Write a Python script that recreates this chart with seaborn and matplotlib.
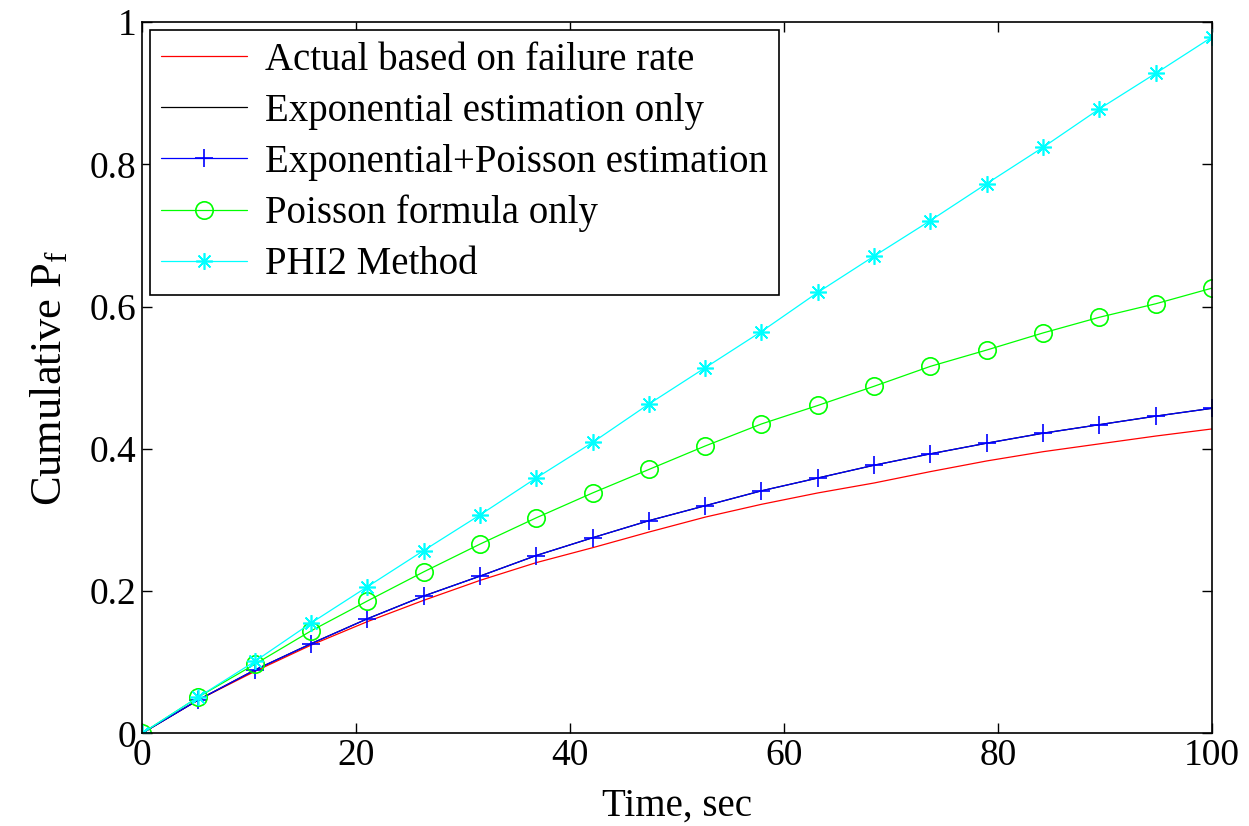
import numpy as np
import pandas as pd
import matplotlib
matplotlib.use("Agg")
import matplotlib.pyplot as plt
import seaborn as sns

# -----------------------------
# Data
# -----------------------------
time_sec = [0.0, 5.26, 10.53, 15.79, 21.05, 26.32, 31.58, 36.84, 42.11, 47.37,
            52.63, 57.89, 63.16, 68.42, 73.68, 78.95, 84.21, 89.47, 94.74, 100.0]

actual_pf = [0.0, 0.047, 0.087, 0.124, 0.157, 0.187, 0.215, 0.240, 0.261, 0.283,
             0.304, 0.322, 0.338, 0.352, 0.368, 0.383, 0.396, 0.407, 0.418, 0.428]

expo_pf = [0.0, 0.047, 0.089, 0.126, 0.161, 0.193, 0.221, 0.250, 0.275, 0.299,
           0.320, 0.341, 0.359, 0.377, 0.393, 0.408, 0.422, 0.434, 0.446, 0.457]

expo_poisson_pf = [0.0, 0.047, 0.089, 0.126, 0.161, 0.193, 0.221, 0.250, 0.275, 0.299,
                   0.320, 0.341, 0.359, 0.377, 0.393, 0.408, 0.422, 0.434, 0.446, 0.457]

poisson_pf = [0.0, 0.051, 0.097, 0.144, 0.186, 0.227, 0.266, 0.303, 0.338, 0.371,
              0.404, 0.435, 0.461, 0.488, 0.516, 0.539, 0.563, 0.585, 0.604, 0.626]

phi2_pf = [0.0, 0.051, 0.101, 0.155, 0.206, 0.257, 0.307, 0.359, 0.409, 0.463,
           0.514, 0.565, 0.620, 0.671, 0.721, 0.773, 0.824, 0.878, 0.928, 0.979]

series_names = ["Actual based on failure rate", "Exponential estimation only",
                "Exponential+Poisson estimation", "Poisson formula only", "PHI2 Method"]

x_ticks = [0, 20, 40, 60, 80, 100]
y_ticks = [0, 0.2, 0.4, 0.6, 0.8, 1.0]
y_tick_labels = ["0", "0.2", "0.4", "0.6", "0.8", "1"]

# -----------------------------
# Style
# -----------------------------
sns.set_style("ticks")
plt.rcParams["font.family"] = ["Liberation Serif", "DejaVu Serif"]
plt.rcParams["mathtext.fontset"] = "custom"
plt.rcParams["mathtext.rm"] = "Liberation Serif"
plt.rcParams["mathtext.it"] = "Liberation Serif:italic"
plt.rcParams["text.color"] = "black"
plt.rcParams["axes.labelcolor"] = "black"

df = pd.DataFrame({
    "Time": time_sec * 5,
    "Pf": actual_pf + expo_pf + expo_poisson_pf + poisson_pf + phi2_pf,
    "Method": np.repeat(series_names, len(time_sec)),
})

# colour, marker, markersize per series (MATLAB look)
styles = {
    "Actual based on failure rate": ("#ff0000", None, 0),
    "Exponential estimation only": ("#000000", None, 0),
    "Exponential+Poisson estimation": ("#0000ff", "+", 13),
    "Poisson formula only": ("#00ff00", "o", 12.5),
    "PHI2 Method": ("#00ffff", (8, 2, 0), 12),
}

fig = plt.figure(figsize=(12.49, 8.26), dpi=100)
ax = fig.add_axes([0.1137, 0.1122, 0.8567, 0.8610])

for name in series_names:
    color, marker, msize = styles[name]
    sub = df[df["Method"] == name]
    kw = dict(color=color, linewidth=0.9, label=name, ax=ax)
    if marker is not None:
        kw.update(marker=marker, markersize=msize, markerfacecolor="none",
                  markeredgecolor=color, markeredgewidth=1.2)
    sns.lineplot(data=sub, x="Time", y="Pf", **kw)

ax.set_xlim(0, 100)
ax.set_ylim(0, 1)
ax.set_xticks(x_ticks)
ax.set_xticklabels([str(v) for v in x_ticks])
ax.set_yticks(y_ticks)
ax.set_yticklabels(y_tick_labels)
ax.tick_params(direction="in", length=7, width=1, top=True, right=True,
               labelsize=27, pad=4, colors="black")
for sp in ax.spines.values():
    sp.set_visible(True)
    sp.set_linewidth(1.2)
    sp.set_color("black")

ax.set_xlabel("Time, sec", fontsize=28, labelpad=10)
ax.set_ylabel(r"Cumulative P$_\mathrm{f}$", fontsize=32, labelpad=14)

leg = ax.legend(loc="upper left", fontsize=28, frameon=True, fancybox=False,
                edgecolor="black", borderaxespad=0.2, handlelength=2.2,
                handletextpad=0.45, labelspacing=0.36, borderpad=0.3)
leg.get_frame().set_linewidth(1.2)
leg.get_frame().set_alpha(1)

fig.savefig("out.png", dpi=100, facecolor="white")
